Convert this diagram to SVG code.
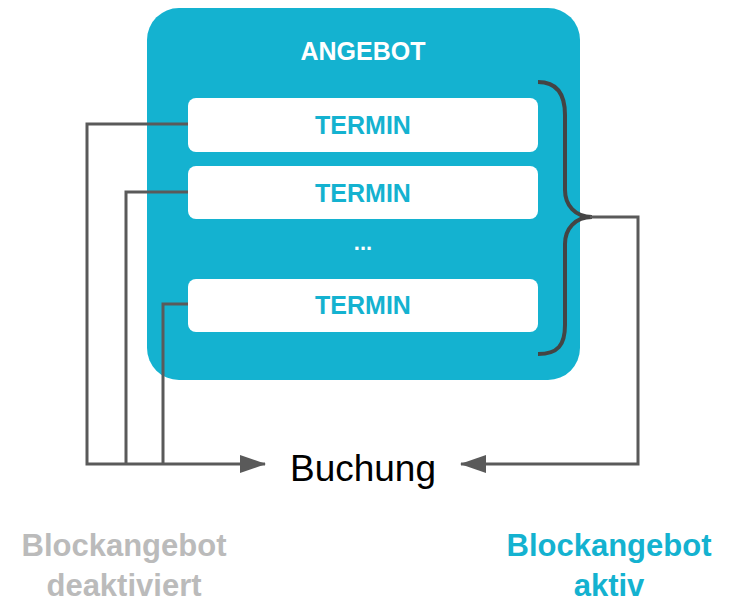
<svg xmlns="http://www.w3.org/2000/svg" width="730" height="602" viewBox="0 0 730 602">
<style>
.termin{fill:#fff}
.tt{font-family:"Liberation Sans",Arial,sans-serif;font-weight:bold;font-size:25px;fill:#14b2d0;text-anchor:middle}
.conn{fill:none;stroke:#5a5a5a;stroke-width:3}
.lbl{font-family:"Liberation Sans",Arial,sans-serif;font-weight:bold;font-size:31px;text-anchor:middle}
</style>
<defs>
<marker id="ah" markerWidth="26" markerHeight="18" refX="25" refY="9" orient="auto" markerUnits="userSpaceOnUse" viewBox="0 0 26 18">
<path d="M0,0 L26,9 L0,18 Z" fill="#5a5a5a"/>
</marker>
</defs>
<rect width="730" height="602" fill="#fff"/>
<g id="angebot">
<rect x="147" y="8" width="433" height="372" rx="32" fill="#14b2d0"/>
<text x="363" y="60" font-family="Liberation Sans,Arial,sans-serif" font-weight="bold" font-size="25" fill="#fff" text-anchor="middle">ANGEBOT</text>
</g>
<g id="termin1"><rect class="termin" x="188" y="98" width="350" height="54" rx="8"/><text class="tt" x="363" y="134">TERMIN</text></g>
<g id="termin2"><rect class="termin" x="188" y="166" width="350" height="53" rx="8"/><text class="tt" x="363" y="202">TERMIN</text></g>
<g id="dots"><text x="363" y="250" font-family="Liberation Sans,Arial,sans-serif" font-weight="bold" font-size="22" fill="#fff" text-anchor="middle">...</text></g>
<g id="termin3"><rect class="termin" x="188" y="279" width="350" height="53" rx="8"/><text class="tt" x="363" y="314">TERMIN</text></g>
<g id="connectors">
<path class="conn" d="M188,124 H87 V464 H265" marker-end="url(#ah)"/>
<path class="conn" d="M188,192 H126 V464"/>
<path class="conn" d="M188,304 H163 V464"/>
<path d="M538,82 C558,82 565,95 565,115 V190 C565,205 575,217 592,217 C575,217 565,229 565,244 V325 C565,345 558,354 538,354" fill="none" stroke="#444" stroke-width="4"/>
<path class="conn" d="M590,217 H638 V464 H461" marker-end="url(#ah)"/>
</g>
<g id="buchung"><text x="363" y="481" font-family="Liberation Sans,Arial,sans-serif" font-size="37" fill="#000" text-anchor="middle">Buchung</text></g>
<g id="deaktiviert">
<text class="lbl" x="124" y="556" fill="#bbbbbb">Blockangebot</text>
<text class="lbl" x="124" y="596" fill="#bbbbbb">deaktiviert</text>
</g>
<g id="aktiv">
<text class="lbl" x="609" y="556" fill="#14b2d0">Blockangebot</text>
<text class="lbl" x="609" y="596" fill="#14b2d0">aktiv</text>
</g>
</svg>
